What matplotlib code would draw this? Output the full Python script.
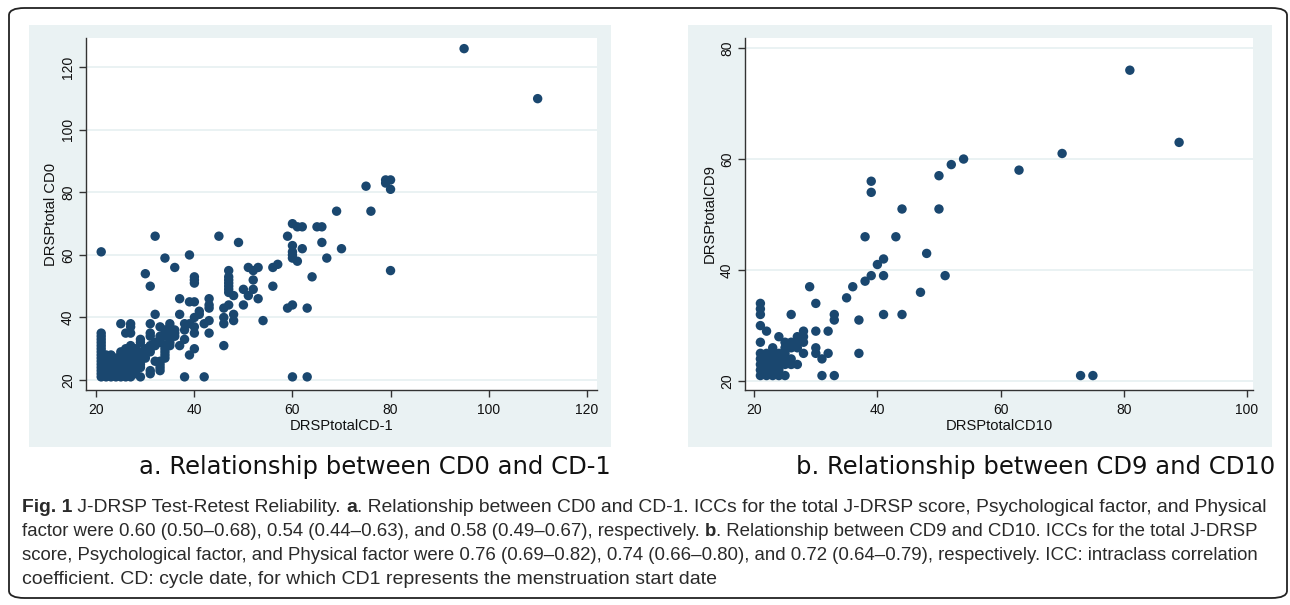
import matplotlib
matplotlib.use("Agg")
import matplotlib.pyplot as plt
from matplotlib.patches import FancyBboxPatch, Rectangle

# ---- data ----
# panel a: DRSPtotal CD-1 (x) vs DRSPtotal CD0 (y)
cd_minus1 = [
    21, 21, 21, 21, 21, 21, 21, 21, 21, 21, 21, 21, 21, 21, 21, 21,
    22, 22, 22, 22, 22, 22, 22, 22,
    23, 23, 23, 23, 23, 23, 23, 23,
    24, 24, 24, 24, 24, 24, 24,
    25, 25, 25, 25, 25, 25, 25, 25, 25, 25,
    26, 26, 26, 26, 26, 26, 26, 26, 26, 26, 26,
    27, 27, 27, 27, 27, 27, 27, 27, 27, 27, 27, 27, 27, 27,
    28, 28, 28, 28, 28, 28, 28, 28, 28,
    29, 29, 29, 29, 29, 29, 29, 29, 29,
    30, 30, 30, 30, 30,
    31, 31, 31, 31, 31, 31, 31, 31, 31,
    32, 32, 32, 32, 32,
    33, 33, 33, 33, 33, 33, 33, 33,
    34, 34, 34, 34, 34, 34, 34, 34, 34,
    35, 35, 35, 35, 35, 35, 35,
    36, 36, 36, 36,
    37, 37, 37,
    38, 38, 38, 38,
    39, 39, 39, 39,
    40, 40, 40, 40, 40, 40, 40, 40,
    41, 41,
    42, 42,
    43, 43, 43, 43, 43,
    45,
    46, 46, 46, 46,
    47, 47, 47, 47, 47, 47, 47, 47,
    48, 48, 48,
    49,
    50, 50,
    51, 51,
    52, 52, 52,
    53, 53,
    54,
    56, 56,
    57,
    59, 59,
    60, 60, 60, 60, 60, 60, 60,
    61, 61,
    62, 62,
    63, 63,
    64,
    65,
    66, 66,
    67,
    69,
    70,
    75,
    76,
    79, 79,
    80, 80, 80,
    95,
    110,
]
cd0 = [
    21, 22, 23, 24, 25, 26, 27, 28, 29, 30, 31, 32, 33, 34, 35, 61,
    21, 22, 23, 24, 25, 26, 27, 28,
    21, 22, 23, 24, 25, 26, 27, 28,
    21, 22, 23, 24, 25, 26, 27,
    21, 22, 23, 24, 25, 26, 27, 28, 29, 38,
    21, 22, 23, 24, 25, 26, 27, 28, 29, 30, 35,
    21, 22, 23, 24, 25, 26, 27, 28, 29, 30, 31, 35, 37, 38,
    22, 23, 24, 25, 26, 27, 28, 29, 30,
    21, 24, 25, 26, 27, 28, 29, 32, 33,
    27, 28, 29, 30, 54,
    22, 23, 29, 30, 31, 34, 35, 38, 50,
    26, 31, 32, 41, 66,
    23, 24, 25, 26, 32, 33, 34, 37,
    27, 28, 29, 30, 31, 34, 35, 36, 59,
    31, 32, 33, 35, 36, 37, 38,
    34, 35, 36, 56,
    31, 41, 46,
    21, 33, 36, 38,
    28, 38, 45, 60,
    30, 35, 37, 40, 45, 51, 52, 53,
    41, 42,
    21, 38,
    35, 39, 43, 44, 46,
    66,
    31, 38, 40, 43,
    44, 48, 49, 50, 51, 52, 53, 55,
    39, 41, 47,
    64,
    44, 49,
    47, 56,
    49, 52, 55,
    46, 56,
    39,
    50, 56,
    57,
    43, 66,
    21, 44, 59, 60, 61, 63, 70,
    58, 69,
    62, 69,
    21, 43,
    53,
    69,
    64, 69,
    59,
    74,
    62,
    82,
    74,
    83, 84,
    55, 81, 84,
    126,
    110,
]

# panel b: DRSPtotal CD10 (x) vs DRSPtotal CD9 (y)
cd10 = [
    21, 21, 21, 21, 21, 21, 21, 21, 21, 21,
    22, 22, 22, 22, 22, 22,
    23, 23, 23, 23, 23, 23,
    24, 24, 24, 24, 24, 24,
    25, 25, 25, 25, 25, 25,
    26, 26, 26, 26, 26,
    27, 27, 27, 27,
    28, 28, 28, 28,
    29,
    30, 30, 30, 30,
    31, 31,
    32, 32,
    33, 33, 33,
    35, 36, 37, 37,
    38, 38, 39, 39, 39, 40,
    41, 41, 41, 43, 44, 44,
    47, 48, 50, 50, 51, 52, 54,
    63, 70, 73, 75, 81, 89,
]
cd9 = [
    21, 22, 23, 24, 25, 27, 30, 32, 33, 34,
    21, 22, 23, 24, 25, 29,
    21, 22, 23, 24, 25, 26,
    21, 22, 23, 24, 25, 28,
    21, 23, 24, 25, 26, 27,
    23, 24, 26, 27, 32,
    23, 26, 27, 28,
    25, 27, 28, 29,
    37,
    25, 26, 29, 34,
    21, 24,
    25, 29,
    21, 31, 32,
    35, 37, 25, 31,
    38, 46, 39, 54, 56, 41,
    32, 39, 42, 46, 32, 51,
    36, 43, 51, 57, 39, 59, 60,
    58, 61, 21, 21, 76, 63,
]

panel_xticks = [[20, 40, 60, 80, 100, 120], [20, 40, 60, 80, 100]]
panel_yticks = [[20, 40, 60, 80, 100, 120], [20, 40, 60, 80]]
panel_xlabels = ["DRSPtotalCD-1", "DRSPtotalCD10"]
panel_ylabels = ["DRSPtotal CD0", "DRSPtotalCD9"]
panel_titles = ["a. Relationship between CD0 and CD-1",
                "b. Relationship between CD9 and CD10"]

caption_lines = [
    [("Fig. 1", True), (" J-DRSP Test-Retest Reliability. ", False), ("a", True),
     (". Relationship between CD0 and CD-1. ICCs for the total J-DRSP score, Psychological factor, and Physical", False)],
    [("factor were 0.60 (0.50–0.68), 0.54 (0.44–0.63), and 0.58 (0.49–0.67), respectively. ", False), ("b", True),
     (". Relationship between CD9 and CD10. ICCs for the total J-DRSP", False)],
    [("score, Psychological factor, and Physical factor were 0.76 (0.69–0.82), 0.74 (0.66–0.80), and 0.72 (0.64–0.79), respectively. ICC: intraclass correlation", False)],
    [("coefficient. CD: cycle date, for which CD1 represents the menstruation start date", False)],
]

# ---- style ----
W, H = 1290, 605
BG = "#eaf2f3"
DOT = "#1a476f"

fig = plt.figure(figsize=(W / 100, H / 100), dpi=100)


def fx(px):
    return px / W


def fy(py):
    return 1 - py / H


# outer rounded frame
frame = FancyBboxPatch((fx(9), fy(598)), fx(1278), 590 / H,
                       boxstyle="round,pad=0,rounding_size=0.012",
                       transform=fig.transFigure, fill=False,
                       edgecolor="#222222", linewidth=1.3, zorder=-2)
fig.patches.append(frame)

# panel backgrounds (pixels: x0, x1, y0, y1)
bg_boxes = [(29, 611, 25, 447), (688, 1272, 25, 447)]
for x0, x1, y0, y1 in bg_boxes:
    fig.patches.append(Rectangle((fx(x0), fy(y1)), fx(x1 - x0), (y1 - y0) / H,
                                 transform=fig.transFigure, facecolor=BG,
                                 edgecolor="none", zorder=-1))

# axes boxes (pixels: left, right, top, bottom) and limits
ax_boxes = [(86, 597, 38, 390), (745, 1253, 38, 390)]
xlims = [(17.9, 122.1), (18.5, 101.0)]
ylims = [(16.8, 129.4), (18.4, 81.8)]
data = [(cd_minus1, cd0), (cd10, cd9)]

for i in range(2):
    l, r, t, b = ax_boxes[i]
    ax = fig.add_axes([fx(l), fy(b), fx(r - l), (b - t) / H])
    ax.set_facecolor("white")
    xs, ys = data[i]
    ax.scatter(xs, ys, s=46, color=DOT, edgecolors="none", zorder=3)
    ax.set_xlim(*xlims[i])
    ax.set_ylim(*ylims[i])
    ax.set_xticks(panel_xticks[i])
    ax.set_yticks(panel_yticks[i])
    ax.set_yticklabels([str(v) for v in panel_yticks[i]], rotation=90, va="center")
    ax.grid(True, axis="y", color=BG, linewidth=1.4)
    ax.set_axisbelow(True)
    for side in ["top", "right"]:
        ax.spines[side].set_visible(False)
    for side in ["left", "bottom"]:
        ax.spines[side].set_color("#333333")
        ax.spines[side].set_linewidth(1.0)
    ax.tick_params(direction="out", length=5, width=1, color="#333333",
                   labelsize=10, labelcolor="#111111", pad=4)
    ax.tick_params(axis="y", pad=3)
    for lab in ax.get_xticklabels() + ax.get_yticklabels():
        lab.set_family("Liberation Sans")
    ax.set_xlabel(panel_xlabels[i], fontsize=10.6, family="Liberation Sans",
                  color="#111111", labelpad=2)
    ax.set_ylabel(panel_ylabels[i], fontsize=10.6, family="Liberation Sans",
                  color="#111111", labelpad=2)

# sub-captions under the panels
title_x = [375, 1036]
for i in range(2):
    fig.text(fx(title_x[i]), fy(467), panel_titles[i], ha="center", va="center",
             fontsize=17.5, family="DejaVu Sans", color="#111111")

# figure caption with inline bold pieces, each line fitted to the text block width
renderer = fig.canvas.get_renderer()
line_y = [507, 531, 555, 580]
line_end = [1264, 1261, 1264, 714]
for row, end, pieces in zip(line_y, line_end, caption_lines):
    size = 13.5
    probe = []
    width = 0
    for txt, bold in pieces:
        t = fig.text(0, 0, txt, fontsize=size, family="Liberation Sans",
                     weight="bold" if bold else "normal")
        width += t.get_window_extent(renderer=renderer).width
        probe.append(t)
    for t in probe:
        t.remove()
    size = size * (end - 22) / width
    x = 22
    for txt, bold in pieces:
        t = fig.text(fx(x), fy(row), txt, ha="left", va="center", fontsize=size,
                     family="Liberation Sans", weight="bold" if bold else "normal",
                     color="#2a2a2a")
        x += t.get_window_extent(renderer=renderer).width

fig.savefig("out.png", dpi=100)
